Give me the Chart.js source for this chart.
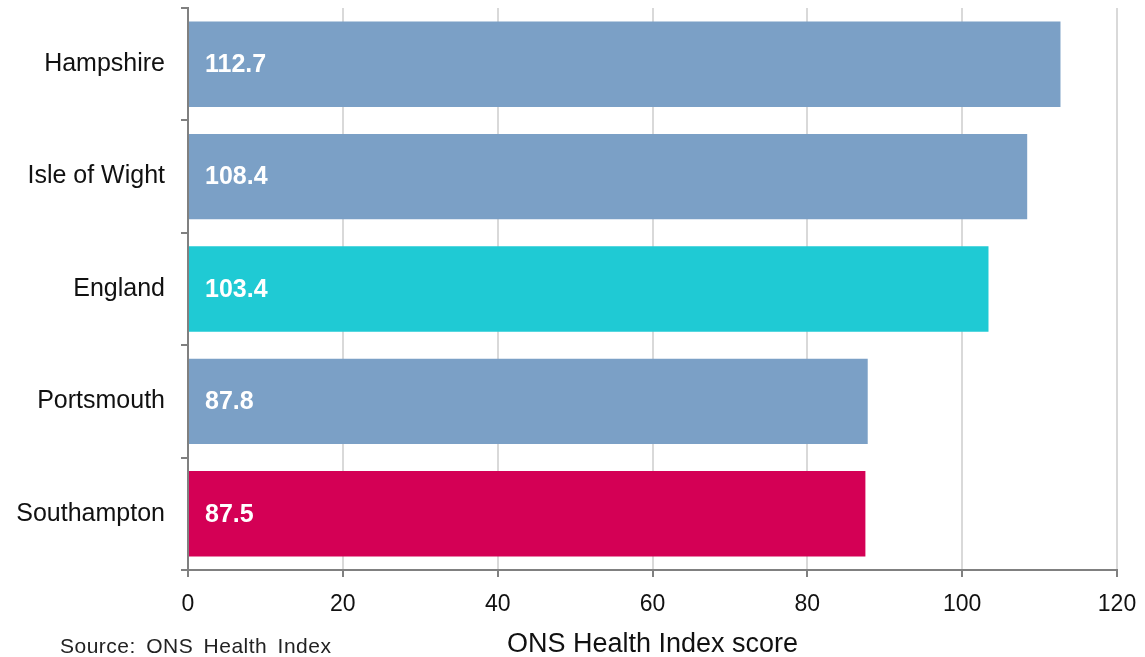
<!DOCTYPE html>
<html>
<head>
<meta charset="utf-8">
<script src="https://cdn.jsdelivr.net/npm/chart.js@4"></script>
<style>
  html, body { margin: 0; padding: 0; background: #fff; }
  #wrap { width: 1145px; height: 657px; position: relative; }
</style>
</head>
<body>
<div id="wrap"><canvas id="chart"></canvas></div>
<script>
// datos del gráfico
const areas = ['Hampshire', 'Isle of Wight', 'England', 'Portsmouth', 'Southampton'];
const scores = [112.7, 108.4, 103.4, 87.8, 87.5];
const barColors = ['#7ba0c6', '#7ba0c6', '#1fcad4', '#7ba0c6', '#d40055'];
const xTitle = 'ONS Health Index score';
const sourceText = 'Source: ONS Health Index';

const fontFam = "'Liberation Sans', Arial, sans-serif";

// etiquetas blancas dentro de cada barra
const barLabels = {
    id: 'barLabels',
    afterDatasetsDraw(chart) {
        const ctx = chart.ctx;
        const meta = chart.getDatasetMeta(0);
        ctx.save();
        ctx.font = 'bold 25px ' + fontFam;
        ctx.fillStyle = '#ffffff';
        ctx.textAlign = 'left';
        ctx.textBaseline = 'middle';
        meta.data.forEach((bar, i) => {
            ctx.fillText(scores[i].toFixed(1), bar.base + 16, bar.y + 1);
        });
        ctx.restore();
    }
};

// texto de la fuente abajo a la izquierda
const sourceNote = {
    id: 'sourceNote',
    afterDraw(chart) {
        const ctx = chart.ctx;
        ctx.save();
        ctx.font = '21px ' + fontFam;
        ctx.letterSpacing = '0.5px';
        ctx.wordSpacing = '4px';
        ctx.fillStyle = '#222';
        ctx.textAlign = 'left';
        ctx.textBaseline = 'middle';
        ctx.fillText(sourceText, 60, 647);
        ctx.restore();
    }
};

new Chart(document.getElementById('chart').getContext('2d'), {
    type: 'bar',
    data: {
        labels: areas,
        datasets: [{
            data: scores,
            backgroundColor: barColors,
            barPercentage: 0.76,
            categoryPercentage: 1
        }]
    },
    options: {
        indexAxis: 'y',
        responsive: true,
        maintainAspectRatio: false,
        animation: false,
        layout: { padding: { left: 0, right: 28, top: 8, bottom: 0 } },
        plugins: {
            legend: { display: false },
            tooltip: { enabled: false }
        },
        scales: {
            x: {
                min: 0, max: 120,
                ticks: { stepSize: 20, color: '#111', font: { family: fontFam, size: 23 }, padding: 14 },
                grid: { color: '#d9d9d9', lineWidth: 2, tickColor: '#808080', tickLength: 7 },
                border: { color: '#808080', width: 2 },
                title: { display: true, text: xTitle, color: '#111', font: { family: fontFam, size: 27 }, padding: { top: 4, bottom: -4 } },
                afterFit(scale) {
                    scale.height = 87;
                    scale.paddingLeft = 0;
                    scale.paddingRight = 0;
                }
            },
            y: {
                ticks: { color: '#111', font: { family: fontFam, size: 25 }, padding: 16 },
                grid: { drawOnChartArea: false, color: '#808080', lineWidth: 2, tickLength: 7 },
                border: { color: '#808080', width: 2 },
                afterFit(scale) {
                    scale.width = 188;
                    scale.paddingTop = 0;
                    scale.paddingBottom = 0;
                }
            }
        }
    },
    plugins: [barLabels, sourceNote]
});
</script>
</body>
</html>
